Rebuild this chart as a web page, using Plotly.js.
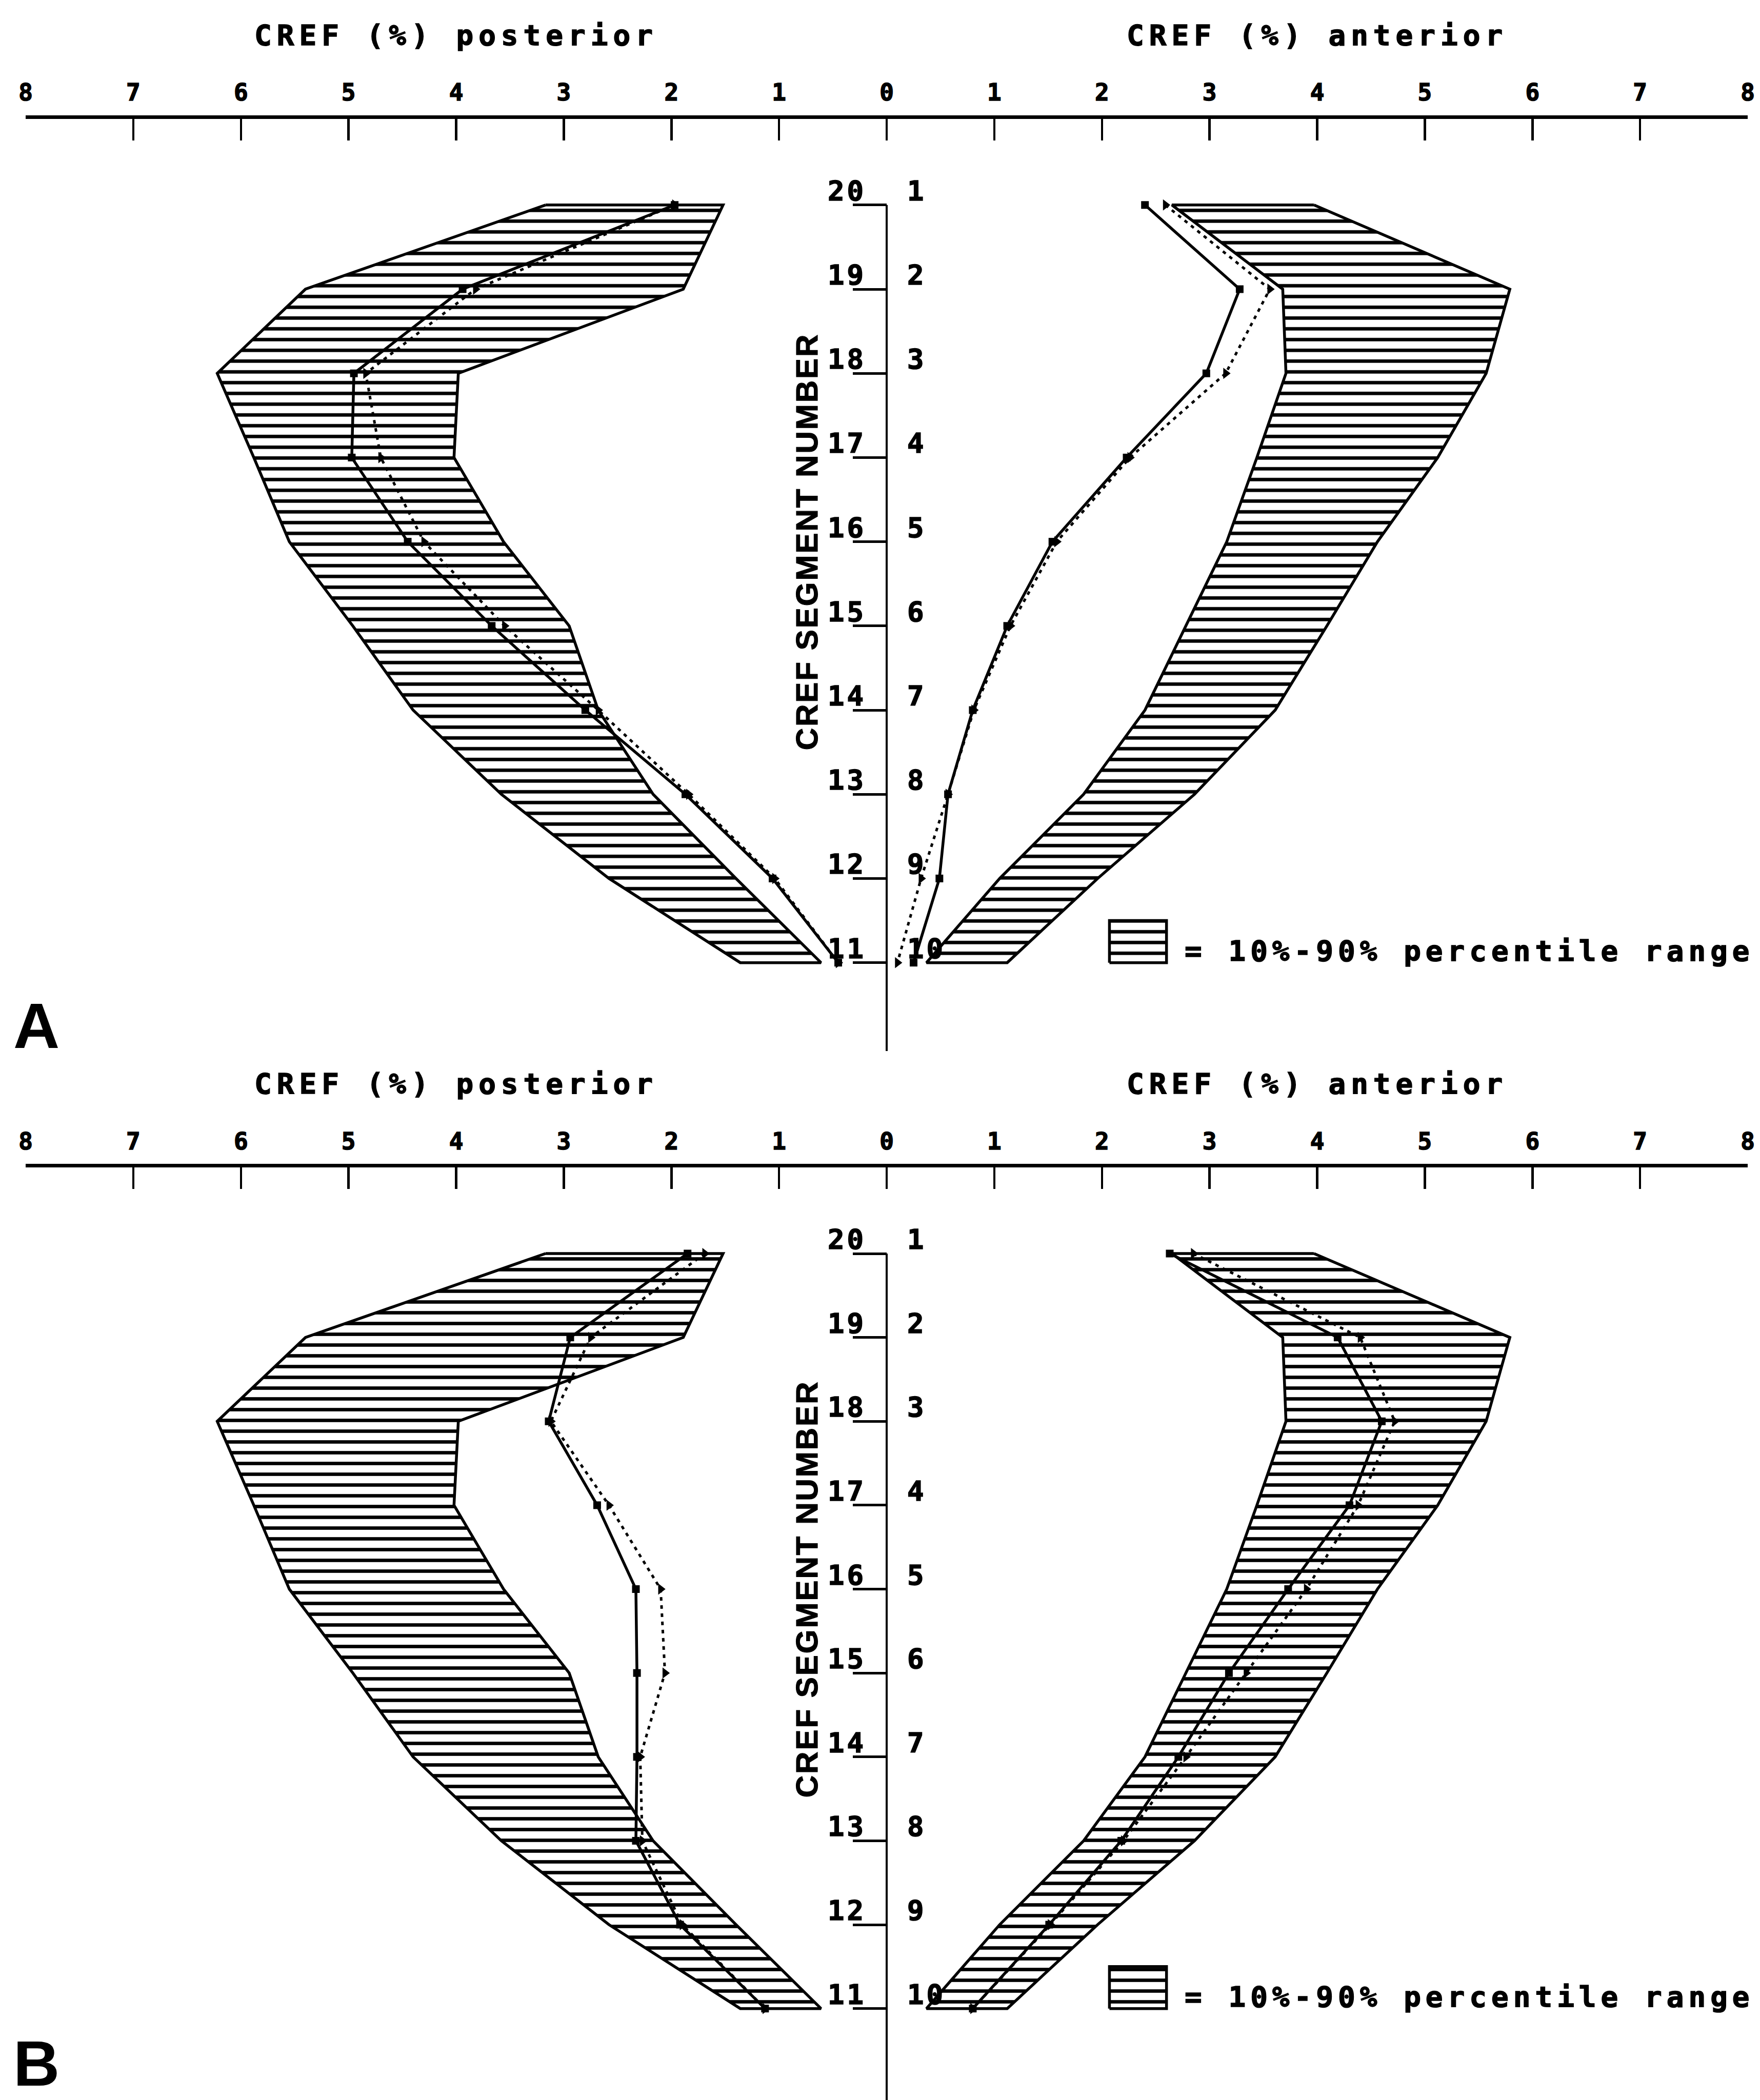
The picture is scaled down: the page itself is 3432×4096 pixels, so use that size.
<!DOCTYPE html>
<html>
<head>
<meta charset="utf-8">
<script src="https://cdn.plot.ly/plotly-3.0.1.min.js"></script>
<style>
  html, body { margin: 0; padding: 0; background: #ffffff; }
  #chart { width: 3432px; height: 4096px; }
</style>
</head>
<body>
<div id="chart"></div>
<script>
// ---------------- DATA ----------------
// Row order from top to bottom: anterior segments 1..10, posterior segments 20..11
const segAnterior  = [1, 2, 3, 4, 5, 6, 7, 8, 9, 10];
const segPosterior = [20, 19, 18, 17, 16, 15, 14, 13, 12, 11];

// Top axis ticks (CREF %), posterior on the left, anterior on the right
const xTickVals = [-8, -7, -6, -5, -4, -3, -2, -1, 0, 1, 2, 3, 4, 5, 6, 7, 8];
const xTickText = ['8', '7', '6', '5', '4', '3', '2', '1', '0', '1', '2', '3', '4', '5', '6', '7', '8'];

// Normal 10%-90% percentile range (CREF %)
const normPostP10 = [1.52, 1.89, 3.98, 4.02, 3.56, 2.95, 2.68, 2.17, 1.40, 0.61];
const normPostP90 = [3.17, 5.40, 6.22, 5.88, 5.55, 4.96, 4.40, 3.58, 2.58, 1.36];
const normAntP10  = [2.65, 3.68, 3.71, 3.44, 3.16, 2.78, 2.40, 1.83, 1.05, 0.37];
const normAntP90  = [3.97, 5.79, 5.57, 5.12, 4.56, 4.09, 3.61, 2.86, 1.96, 1.12];

// Panel A curves
const aPostSolid  = [1.97, 3.94, 4.95, 4.97, 4.45, 3.67, 2.80, 1.87, 1.06, 0.45];
const aPostDotted = [1.97, 3.82, 4.84, 4.70, 4.30, 3.55, 2.68, 1.84, 1.04, 0.45];
const aAntSolid   = [2.40, 3.28, 2.97, 2.23, 1.54, 1.12, 0.80, 0.57, 0.49, 0.25];
const aAntDotted  = [2.59, 3.56, 3.15, 2.26, 1.58, 1.15, 0.81, 0.57, 0.32, 0.10];

// Panel B curves
const bPostSolid  = [1.85, 2.94, 3.14, 2.69, 2.33, 2.32, 2.32, 2.33, 1.92, 1.13];
const bPostDotted = [1.69, 2.75, 3.12, 2.58, 2.10, 2.06, 2.29, 2.27, 1.90, 1.13];
const bAntSolid   = [2.63, 4.19, 4.60, 4.30, 3.73, 3.18, 2.71, 2.18, 1.51, 0.80];
const bAntDotted  = [2.85, 4.40, 4.72, 4.38, 3.90, 3.34, 2.78, 2.20, 1.52, 0.80];

const panelLabels = ['A', 'B'];
const titlePosterior = 'CREF (%) posterior';
const titleAnterior = 'CREF (%) anterior';
const titleSegments = 'CREF SEGMENT NUMBER';
const legendText = '= 10%-90% percentile range';

// ---------------- STYLE ----------------
const MONO = '"DejaVu Sans Mono", "Liberation Mono", monospace';
const SANS = '"Liberation Sans", Arial, sans-serif';
const INK = '#000000';
const HATCH = { shape: '-', size: 21, solidity: 0.32, fgcolor: INK, bgcolor: '#ffffff', fillmode: 'replace' };

function heavy(txt, spacing, stroke) {
  return '<span style="letter-spacing:' + spacing + 'px;stroke:#000;stroke-width:' + stroke + 'px">' + txt + '</span>';
}

const rows = segAnterior; // row index used as y position (1 = top row)

function bandTrace(inner, outer, sign, xa, ya) {
  const x = outer.map(v => sign * v).concat(inner.slice().reverse().map(v => sign * v));
  const y = rows.concat(rows.slice().reverse());
  x.push(x[0]); y.push(y[0]);
  return {
    type: 'scatter', mode: 'lines', x: x, y: y, xaxis: xa, yaxis: ya,
    fill: 'toself', fillcolor: '#ffffff', fillpattern: HATCH,
    line: { color: INK, width: 5.5 }, hoverinfo: 'skip', showlegend: false
  };
}

function curveTrace(vals, sign, dotted, xa, ya) {
  return {
    type: 'scatter', mode: 'lines+markers',
    x: vals.map(v => sign * v), y: rows, xaxis: xa, yaxis: ya,
    line: { color: INK, width: dotted ? 5 : 5.5, dash: dotted ? '7px,9px' : 'solid' },
    marker: { symbol: dotted ? 'triangle-right' : 'square', size: dotted ? 19 : 15, color: INK },
    hoverinfo: 'skip', showlegend: false
  };
}

// legend swatch (layout constants, in data units of each panel)
const LEG_X0 = 2.07, LEG_X1 = 2.60, LEG_Y0 = 9.5, LEG_Y1 = 10.0, LEG_TX = 2.76, LEG_TY = 9.86;
function legendSwatch(xa, ya) {
  return {
    type: 'scatter', mode: 'lines', xaxis: xa, yaxis: ya,
    x: [LEG_X0, LEG_X1, LEG_X1, LEG_X0, LEG_X0],
    y: [LEG_Y1, LEG_Y1, LEG_Y0, LEG_Y0, LEG_Y1],
    fill: 'toself', fillcolor: '#ffffff', fillpattern: HATCH,
    line: { color: INK, width: 5.5 }, hoverinfo: 'skip', showlegend: false
  };
}

const panels = [
  { xa: 'x',  ya: 'y',  post: [aPostSolid, aPostDotted], ant: [aAntSolid, aAntDotted] },
  { xa: 'x2', ya: 'y2', post: [bPostSolid, bPostDotted], ant: [bAntSolid, bAntDotted] }
];

const data = [];
panels.forEach(p => {
  data.push(bandTrace(normPostP10, normPostP90, -1, p.xa, p.ya));
  data.push(bandTrace(normAntP10, normAntP90, 1, p.xa, p.ya));
  data.push(legendSwatch(p.xa, p.ya));
  data.push(curveTrace(p.post[1], -1, true, p.xa, p.ya));
  data.push(curveTrace(p.post[0], -1, false, p.xa, p.ya));
  data.push(curveTrace(p.ant[1], 1, true, p.xa, p.ya));
  data.push(curveTrace(p.ant[0], 1, false, p.xa, p.ya));
});

// ---------------- LAYOUT ----------------
function xAxis(anchor) {
  return {
    anchor: anchor, side: 'top', domain: [0, 1], range: [-8, 8],
    tickmode: 'array', tickvals: xTickVals, ticktext: xTickText.map(t => heavy(t, 0, 1.6)),
    ticks: 'inside', ticklen: 42, tickwidth: 4.5, tickcolor: INK,
    showline: true, linewidth: 7, linecolor: INK,
    showgrid: false, zeroline: false, fixedrange: true,
    ticklabelstandoff: 10,
    tickfont: { family: MONO, size: 46, color: INK, weight: 'bold' }
  };
}
function yAxis(domain, range, side, overlay) {
  const ax = {
    domain: domain, range: range, anchor: 'free', position: 0.5, side: side,
    tickmode: 'array', tickvals: rows, ticks: 'outside', ticklen: 66, tickwidth: 5, tickcolor: INK,
    showticklabels: false, showgrid: false, zeroline: false, showline: false, fixedrange: true
  };
  if (overlay) ax.overlaying = overlay;
  return ax;
}

const domA = [0.4995, 0.9434], rangeA = [11.05, -0.023];
const domB = [0.0, 0.4441],   rangeB = [11.09, -0.027];

const annotations = [];
const shapes = [];
const panelInfo = [
  { xa: 'x', ya: 'y', titleY: 0.9832, letterY: 0.5115, letterAnchor: 'middle', letterShift: 0, yBottom: rangeA[0] },
  { xa: 'x2', ya: 'y2', titleY: 0.4839, letterY: 0.0, letterAnchor: 'bottom', letterShift: 0, yBottom: rangeB[0] }
];
panelInfo.forEach((p, k) => {
  const titleFont = { family: MONO, size: 56, color: INK, weight: 'bold' };
  annotations.push({ xref: p.xa, yref: 'paper', x: -4, y: p.titleY, xanchor: 'center', yanchor: 'middle',
    text: heavy(titlePosterior, 10, 1.6), showarrow: false, font: titleFont });
  annotations.push({ xref: p.xa, yref: 'paper', x: 4, y: p.titleY, xanchor: 'center', yanchor: 'middle',
    text: heavy(titleAnterior, 10, 1.6), showarrow: false, font: titleFont });
  // segment labels
  rows.forEach((r, i) => {
    annotations.push({ xref: p.xa, yref: p.ya, x: 0, y: r, xanchor: 'right', yanchor: 'bottom',
      xshift: -38, yshift: -6, showarrow: false,
      text: heavy(segPosterior[i], 5, 1.6),
      font: { family: MONO, size: 54, color: INK, weight: 'bold' } });
    annotations.push({ xref: p.xa, yref: p.ya, x: 0, y: r, xanchor: 'left', yanchor: 'bottom',
      xshift: 38, yshift: -6, showarrow: false,
      text: heavy(segAnterior[i], 5, 1.6),
      font: { family: MONO, size: 54, color: INK, weight: 'bold' } });
  });
  annotations.push({ xref: p.xa, yref: p.ya, x: -0.74, y: 5, xanchor: 'center', yanchor: 'middle',
    textangle: -90, showarrow: false,
    text: heavy(titleSegments, 3, 1.2),
    font: { family: SANS, size: 60, color: INK, weight: 'bold' } });
  annotations.push({ xref: p.xa, yref: p.ya, x: LEG_TX, y: LEG_TY, xanchor: 'left', yanchor: 'middle',
    showarrow: false, text: heavy(legendText, 9, 1.6),
    font: { family: MONO, size: 56, color: INK, weight: 'bold' } });
  annotations.push({ xref: 'paper', yref: 'paper', x: 0.0063, y: p.letterY, xanchor: 'center', yanchor: p.letterAnchor,
    yshift: p.letterShift, showarrow: false, text: panelLabels[k],
    font: { family: SANS, size: 125, color: INK, weight: 'bold' } });
  shapes.push({ type: 'line', xref: p.xa, yref: p.ya, x0: 0, x1: 0, y0: 1, y1: p.yBottom,
    line: { color: INK, width: 4 }, layer: 'above' });
});

const layout = {
  width: 3432, height: 4096,
  margin: { l: 50, r: 24, t: 0, b: 0, pad: 0 },
  paper_bgcolor: '#ffffff', plot_bgcolor: 'rgba(0,0,0,0)',
  showlegend: false,
  xaxis: xAxis('y'),
  xaxis2: xAxis('y2'),
  yaxis: yAxis(domA, rangeA, 'left'),
  yaxis3: yAxis(domA, rangeA, 'right', 'y'),
  yaxis2: yAxis(domB, rangeB, 'left'),
  yaxis4: yAxis(domB, rangeB, 'right', 'y2'),
  annotations: annotations,
  shapes: shapes
};

Plotly.newPlot('chart', data, layout, { staticPlot: true, displayModeBar: false });
</script>
</body>
</html>
